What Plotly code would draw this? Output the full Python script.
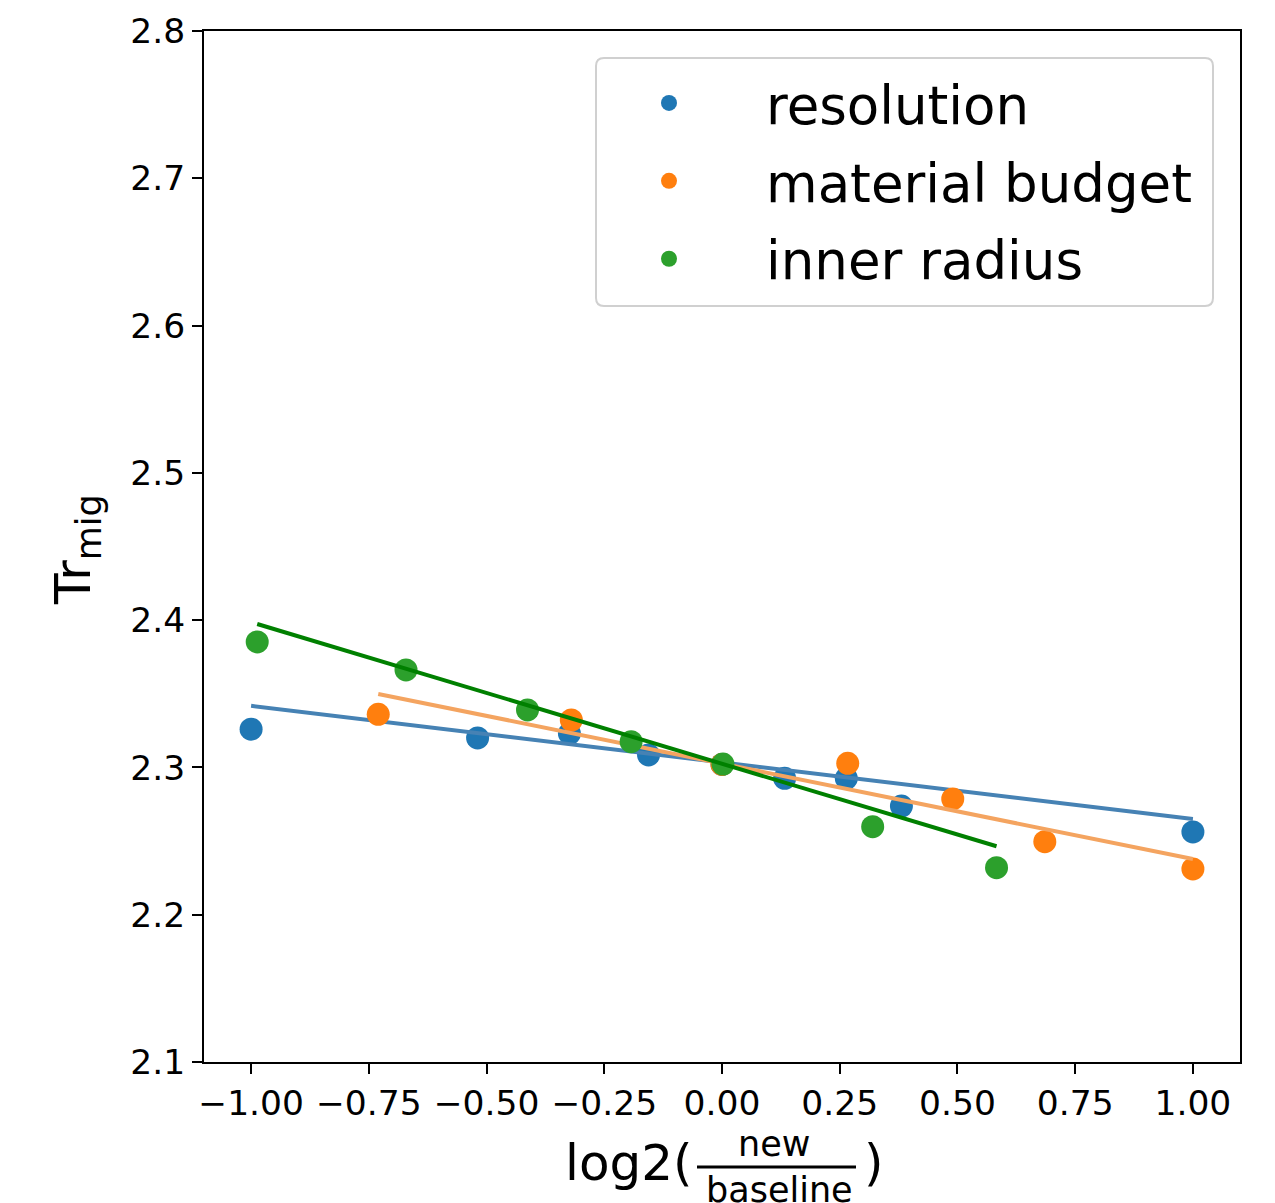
import plotly.graph_objects as go

# ---- data ----
series_names = ["resolution", "material budget", "inner radius"]

res_x = [-1.00, -0.519, -0.324, -0.156, 0.00, 0.133, 0.264, 0.381, 1.00]
res_y = [2.326, 2.320, 2.323, 2.3085, 2.302, 2.2926, 2.2926, 2.2738, 2.2562]

mat_x = [-0.730, -0.320, 0.00, 0.267, 0.490, 0.6855, 1.00]
mat_y = [2.3361, 2.3322, 2.302, 2.3028, 2.2786, 2.2496, 2.2311]

rad_x = [-0.987, -0.671, -0.413, -0.193, 0.002, 0.320, 0.583]
rad_y = [2.3852, 2.3662, 2.3390, 2.3175, 2.3023, 2.2598, 2.2319]

# linear-fit parameters (slope, intercept)
fit_slope = [-0.0384, -0.0648, -0.0961]
fit_intercept = [2.3034, 2.3026, 2.3025]

x_ticks = [-1.00, -0.75, -0.50, -0.25, 0.00, 0.25, 0.50, 0.75, 1.00]
y_ticks = [2.1, 2.2, 2.3, 2.4, 2.5, 2.6, 2.7, 2.8]

marker_colors = ["#1f77b4", "#ff7f0e", "#2ca02c"]
line_colors = ["steelblue", "sandybrown", "green"]

# ---- figure geometry (page body has an 8px margin) ----
OFF = 8
W, H = 1275 - OFF, 1203 - OFF
ML, MR, MT, MB = 204 - OFF, 35, 31 - OFF, 141
PW = W - ML - MR
PH = H - MT - MB


def px_x(p):
    # reference page pixel -> paper x
    return (p - OFF - ML) / PW


def px_y(p):
    # reference page pixel -> paper y
    return (H - MB - (p - OFF)) / PH


FONT = "DejaVu Sans"
fig = go.Figure()

all_x = [res_x, mat_x, rad_x]
all_y = [res_y, mat_y, rad_y]
for i in range(3):
    xs, ys = all_x[i], all_y[i]
    fig.add_trace(go.Scatter(
        x=xs, y=ys, mode="markers", name=series_names[i],
        legendgroup=series_names[i],
        marker=dict(color=marker_colors[i], size=23, line=dict(width=0)),
    ))
    x0, x1 = min(xs), max(xs)
    fig.add_trace(go.Scatter(
        x=[x0, x1],
        y=[fit_intercept[i] + fit_slope[i] * x0, fit_intercept[i] + fit_slope[i] * x1],
        mode="lines", showlegend=False, legendgroup=series_names[i],
        line=dict(color=line_colors[i], width=4),
        hoverinfo="skip",
    ))

axis_common = dict(
    showline=True, linewidth=2, linecolor="black", mirror=True,
    ticks="outside", ticklen=10, tickwidth=2, tickcolor="black",
    showgrid=False, zeroline=False,
    tickfont=dict(family=FONT, size=34.5, color="black"),
)

fig.update_xaxes(range=[-1.1, 1.1], tickmode="array", tickvals=x_ticks,
                 ticktext=[("\u2212" if v < 0 else "") + f"{abs(v):.2f}" for v in x_ticks],
                 **axis_common)
fig.update_yaxes(range=[2.1, 2.8], tickmode="array", tickvals=y_ticks,
                 ticktext=[f"{v:.1f}" for v in y_ticks], **axis_common)

fig.update_layout(
    width=W, height=H,
    margin=dict(l=ML, r=MR, t=MT, b=MB, autoexpand=False),
    plot_bgcolor="white", paper_bgcolor="white",
    font=dict(family=FONT, color="black"),
    legend=dict(
        x=px_x(572), y=px_y(62), xanchor="left", yanchor="top",
        bgcolor="rgba(0,0,0,0)", borderwidth=0,
        font=dict(family=FONT, size=53, color="black"),
        itemwidth=184, tracegroupgap=6, traceorder="grouped",
    ),
)

# legend frame (rounded box as in the reference)
bx0, bx1, by0, by1, r = 596, 1213, 58, 306, 8
X = lambda p: px_x(p)
Y = lambda p: px_y(p)
path = (f"M {X(bx0 + r)} {Y(by0)} L {X(bx1 - r)} {Y(by0)} "
        f"Q {X(bx1)} {Y(by0)} {X(bx1)} {Y(by0 + r)} "
        f"L {X(bx1)} {Y(by1 - r)} Q {X(bx1)} {Y(by1)} {X(bx1 - r)} {Y(by1)} "
        f"L {X(bx0 + r)} {Y(by1)} Q {X(bx0)} {Y(by1)} {X(bx0)} {Y(by1 - r)} "
        f"L {X(bx0)} {Y(by0 + r)} Q {X(bx0)} {Y(by0)} {X(bx0 + r)} {Y(by0)} Z")
fig.add_shape(type="path", path=path, xref="paper", yref="paper",
              line=dict(color="#d0d0d0", width=2), fillcolor="rgba(255,255,255,0.8)",
              layer="below")

# y-axis label
fig.add_annotation(text="Tr<sub>mig</sub>", xref="paper", yref="paper",
                   x=px_x(76), y=px_y(550), xanchor="center", yanchor="middle",
                   textangle=-90, showarrow=False,
                   font=dict(family=FONT, size=50, color="black"))

# x-axis label: log2(new / baseline) as a stacked fraction
fig.add_annotation(text="log2(", xref="paper", yref="paper",
                   x=px_x(695), y=px_y(1163), xanchor="right", yanchor="middle",
                   showarrow=False, font=dict(family=FONT, size=50, color="black"))
fig.add_annotation(text="new", xref="paper", yref="paper",
                   x=px_x(774), y=px_y(1144), xanchor="center", yanchor="middle",
                   showarrow=False, font=dict(family=FONT, size=35, color="black"))
fig.add_annotation(text="baseline", xref="paper", yref="paper",
                   x=px_x(779), y=px_y(1190), xanchor="center", yanchor="middle",
                   showarrow=False, font=dict(family=FONT, size=35, color="black"))
fig.add_annotation(text=")", xref="paper", yref="paper",
                   x=px_x(862), y=px_y(1163), xanchor="left", yanchor="middle",
                   showarrow=False, font=dict(family=FONT, size=50, color="black"))
fig.add_shape(type="line", xref="paper", yref="paper",
              x0=px_x(697), x1=px_x(856), y0=px_y(1167), y1=px_y(1167),
              line=dict(color="black", width=3))

fig.write_html("out.html")
